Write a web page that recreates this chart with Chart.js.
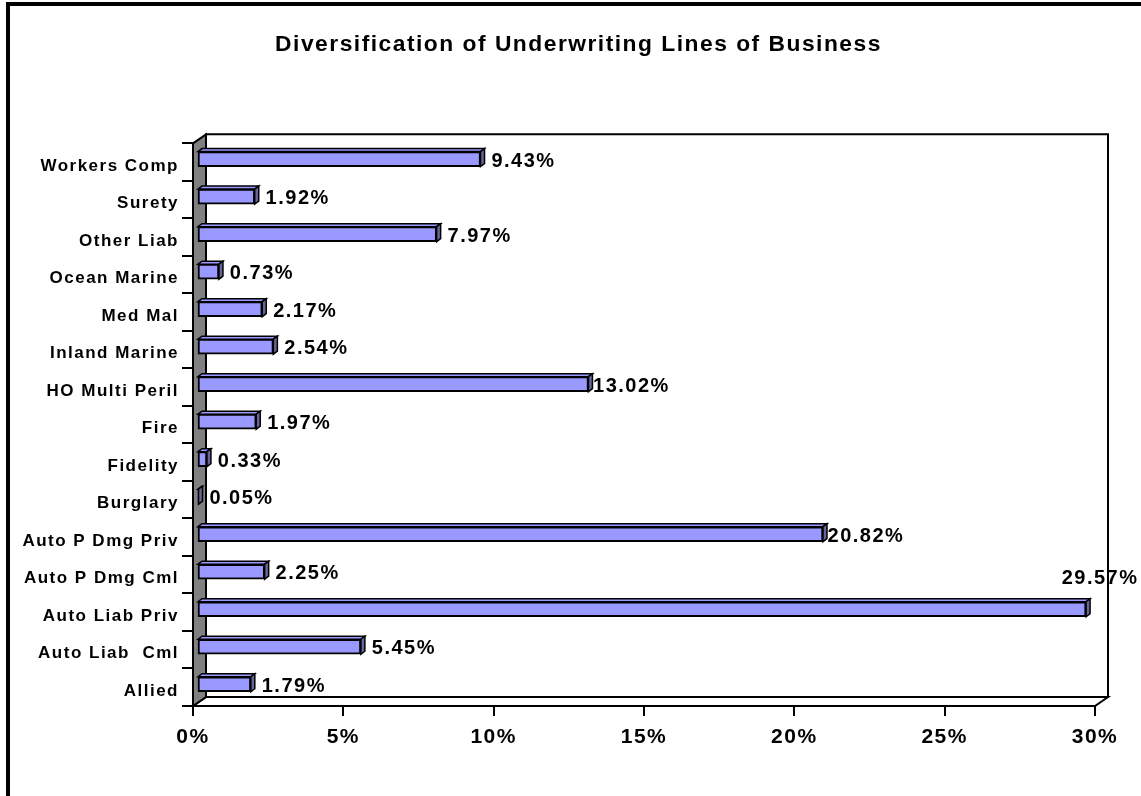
<!DOCTYPE html>
<html>
<head>
<meta charset="utf-8">
<script src="https://cdn.jsdelivr.net/npm/chart.js@4.4.0/dist/chart.umd.min.js"></script>
<style>
  html, body { margin: 0; padding: 0; background: #fff; }
  #wrap { width: 1141px; height: 796px; position: relative; }
</style>
</head>
<body>
<div id="wrap"><canvas id="lobChart" width="1141" height="796"></canvas></div>
<script>
const categories = ['Workers Comp', 'Surety', 'Other Liab', 'Ocean Marine', 'Med Mal', 'Inland Marine',
    'HO Multi Peril', 'Fire', 'Fidelity', 'Burglary', 'Auto P Dmg Priv', 'Auto P Dmg Cml',
    'Auto Liab Priv', 'Auto Liab  Cml', 'Allied'];
const shares = [9.43, 1.92, 7.97, 0.73, 2.17, 2.54, 13.02, 1.97, 0.33, 0.05, 20.82, 2.25, 29.57, 5.45, 1.79];
const xTicks = [0, 5, 10, 15, 20, 25, 30];

const FONT = "'Liberation Sans', Arial, sans-serif";
const WALL_DX = 13, WALL_DY = -9;   // depth of the 3d box
const BAR_DX = 4, BAR_DY = -3;      // depth of each bar
const SHIFT_X = 4, SHIFT_Y = -3;    // bars sit mid-depth

function poly(ctx, pts, fill) {
    ctx.beginPath();
    ctx.moveTo(pts[0][0], pts[0][1]);
    for (let i = 1; i < pts.length; i++) ctx.lineTo(pts[i][0], pts[i][1]);
    ctx.closePath();
    ctx.fillStyle = fill;
    ctx.fill();
    ctx.stroke();
}

const box3d = {
    id: 'box3d',
    beforeUpdate(chart) {
        // old excel text is rendered rather wide
        chart.ctx.letterSpacing = '1.5px';
    },
    beforeDraw(chart) {
        const {ctx, chartArea: a} = chart;
        ctx.letterSpacing = '1.5px';
        ctx.save();
        ctx.fillStyle = '#fff';
        ctx.fillRect(0, 0, chart.width, chart.height);
        // outer frame
        ctx.strokeStyle = '#000';
        ctx.lineWidth = 4;
        ctx.strokeRect(8, 4, chart.width + 20, chart.height + 20);
        // walls
        ctx.lineWidth = 2;
        poly(ctx, [[a.left + WALL_DX, a.top + WALL_DY], [a.right + WALL_DX, a.top + WALL_DY],
            [a.right + WALL_DX, a.bottom + WALL_DY], [a.left + WALL_DX, a.bottom + WALL_DY]], '#fff');
        poly(ctx, [[a.left, a.bottom], [a.left + WALL_DX, a.bottom + WALL_DY],
            [a.right + WALL_DX, a.bottom + WALL_DY], [a.right, a.bottom]], '#fff');
        poly(ctx, [[a.left, a.top], [a.left + WALL_DX, a.top + WALL_DY],
            [a.left + WALL_DX, a.bottom + WALL_DY], [a.left, a.bottom]], '#808080');
        ctx.restore();
    },
    beforeDatasetsDraw(chart) {
        chart.ctx.save();
        chart.ctx.translate(SHIFT_X, SHIFT_Y);
    },
    afterDatasetsDraw(chart) {
        const ctx = chart.ctx;
        const meta = chart.getDatasetMeta(0);
        ctx.strokeStyle = '#000';
        ctx.lineWidth = 1.5;
        meta.data.forEach(bar => {
            const {x, y, base, height} = bar.getProps(['x', 'y', 'base', 'height'], true);
            const t = y - height / 2, b = y + height / 2;
            poly(ctx, [[base, t], [base + BAR_DX, t + BAR_DY], [x + BAR_DX, t + BAR_DY], [x, t]], '#9999ff');
            poly(ctx, [[x, t], [x + BAR_DX, t + BAR_DY], [x + BAR_DX, b + BAR_DY], [x, b]], '#666699');
        });
        ctx.restore();

        // value labels, centred a fixed distance past the bar end
        ctx.save();
        ctx.font = 'bold 20px ' + FONT;
        ctx.fillStyle = '#000';
        ctx.textBaseline = 'middle';
        ctx.textAlign = 'center';
        meta.data.forEach((bar, i) => {
            const txt = shares[i].toFixed(2) + '%';
            const w = ctx.measureText(txt).width;
            const cx = bar.x + SHIFT_X + BAR_DX + 39;
            const ly = bar.y + SHIFT_Y + 2;
            if (cx + w / 2 > chart.width) {
                ctx.fillText(txt, bar.x + SHIFT_X + 14, ly - 33);
            } else {
                ctx.fillText(txt, cx, ly);
            }
        });
        ctx.restore();
    }
};

new Chart(document.getElementById('lobChart'), {
    type: 'bar',
    data: {
        labels: categories,
        datasets: [{
            label: 'Share of premium',
            data: shares,
            backgroundColor: '#9999ff',
            borderColor: '#000',
            borderWidth: 2,
            borderSkipped: false,
            barThickness: 15,
            clip: false
        }]
    },
    options: {
        indexAxis: 'y',
        responsive: false,
        animation: false,
        events: [],
        layout: { padding: { left: 16, right: 0, top: 0, bottom: 0 } },
        scales: {
            x: {
                min: 0,
                max: 30,
                afterBuildTicks: scale => { scale.ticks = xTicks.map(v => ({ value: v })); },
                afterFit: scale => { scale.height = 90; },
                border: { display: false },
                grid: { drawOnChartArea: false, drawTicks: true, tickLength: 10, color: '#000', lineWidth: 2 },
                ticks: {
                    padding: 9,
                    color: '#000',
                    font: { family: FONT, size: 21, weight: 'bold' },
                    callback: v => v + '%'
                }
            },
            y: {
                afterFit: scale => { scale.width = 177; },
                border: { display: false },
                grid: { drawOnChartArea: false, drawTicks: true, tickLength: 11, color: '#000', lineWidth: 2, offset: true },
                ticks: {
                    padding: 3,
                    labelOffset: 4,
                    color: '#000',
                    font: { family: FONT, size: 17, weight: 'bold' }
                }
            },
            // empty right-hand strip, leaves room for the 3d depth
            yRight: {
                position: 'right',
                afterFit: scale => { scale.width = 46; },
                border: { display: false },
                grid: { display: false },
                ticks: { display: false }
            }
        },
        plugins: {
            legend: { display: false },
            tooltip: { enabled: false },
            title: {
                display: true,
                text: 'Diversification of Underwriting Lines of Business',
                color: '#000',
                font: { family: FONT, size: 22.8, weight: 'bold', lineHeight: 1.2 },
                padding: { top: 31, bottom: 85 }
            }
        }
    },
    plugins: [box3d]
});
</script>
</body>
</html>
